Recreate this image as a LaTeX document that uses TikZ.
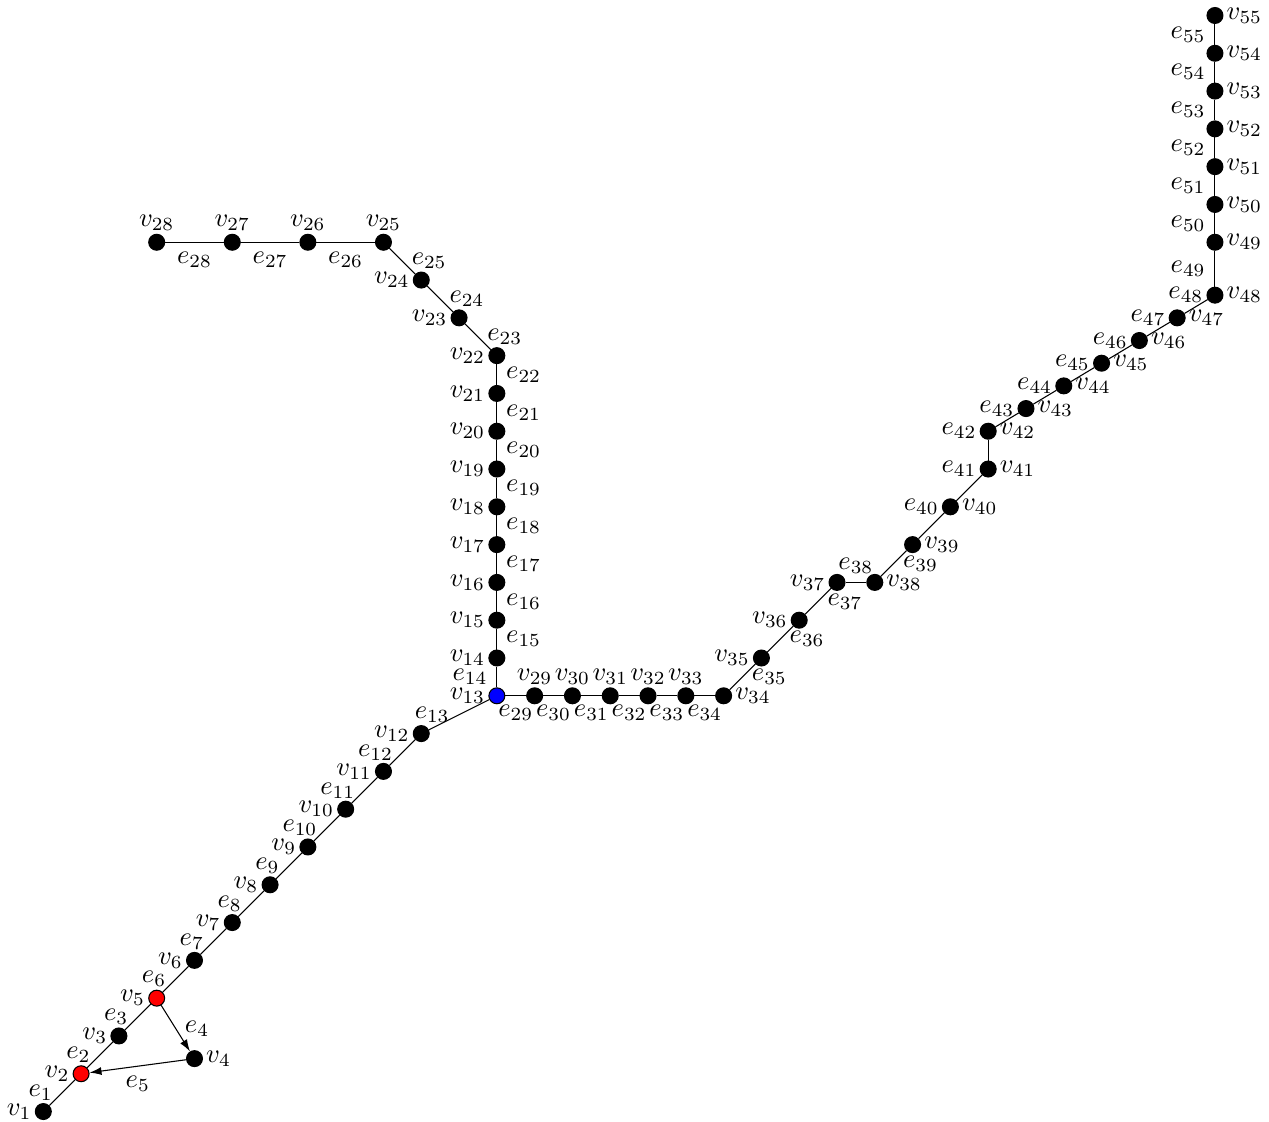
\documentclass[tikz,border=0pt]{standalone}
\usepackage{tikz}
\usetikzlibrary{arrows.meta}
\tikzset{
  vertex/.style={circle,draw,fill=black,inner sep=0pt,minimum size=6pt},
  hit/.style={vertex,fill=red},
  root/.style={vertex,fill=blue},
  line/.style={-{Latex[length=4.5pt,width=3pt]}},
  every label/.style={inner sep=1pt}
}

\begin{document}
\begin{tikzpicture}[x=0.5cm,y=0.5cm]
\useasboundingbox (-1.146,-0.272) rectangle (32.43,29.41);
% tail with the triangle
\node[vertex,label=left:$v_{1}$] (v1) at (0,0) {};
\node[hit,label=left:$v_{2}$] (v2) at (1,1) {};
\node[vertex,label=left:$v_{3}$] (v3) at (2,2) {};
\node[vertex,label=right:$v_{4}$] (v4) at (4,1.4) {};
\node[hit,label=left:$v_{5}$] (v5) at (3,3) {};
\node[vertex,label=left:$v_{6}$] (v6) at (4,4) {};
\node[vertex,label=left:$v_{7}$] (v7) at (5,5) {};
\node[vertex,label=left:$v_{8}$] (v8) at (6,6) {};
\node[vertex,label=left:$v_{9}$] (v9) at (7,7) {};
\node[vertex,label=left:$v_{10}$] (v10) at (8,8) {};
\node[vertex,label=left:$v_{11}$] (v11) at (9,9) {};
\node[vertex,label=left:$v_{12}$] (v12) at (10,10) {};
\node[root,label=left:$v_{13}$] (v13) at (12,11) {};
% upper branch
\node[vertex,label=left:$v_{14}$] (v14) at (12,12) {};
\node[vertex,label=left:$v_{15}$] (v15) at (12,13) {};
\node[vertex,label=left:$v_{16}$] (v16) at (12,14) {};
\node[vertex,label=left:$v_{17}$] (v17) at (12,15) {};
\node[vertex,label=left:$v_{18}$] (v18) at (12,16) {};
\node[vertex,label=left:$v_{19}$] (v19) at (12,17) {};
\node[vertex,label=left:$v_{20}$] (v20) at (12,18) {};
\node[vertex,label=left:$v_{21}$] (v21) at (12,19) {};
\node[vertex,label=left:$v_{22}$] (v22) at (12,20) {};
\node[vertex,label=left:$v_{23}$] (v23) at (11,21) {};
\node[vertex,label=left:$v_{24}$] (v24) at (10,22) {};
\node[vertex,label=above:$v_{25}$] (v25) at (9,23) {};
\node[vertex,label=above:$v_{26}$] (v26) at (7,23) {};
\node[vertex,label=above:$v_{27}$] (v27) at (5,23) {};
\node[vertex,label=above:$v_{28}$] (v28) at (3,23) {};
% right branch
\node[vertex,label=above:$v_{29}$] (v29) at (13,11) {};
\node[vertex,label=above:$v_{30}$] (v30) at (14,11) {};
\node[vertex,label=above:$v_{31}$] (v31) at (15,11) {};
\node[vertex,label=above:$v_{32}$] (v32) at (16,11) {};
\node[vertex,label=above:$v_{33}$] (v33) at (17,11) {};
\node[vertex,label=right:$v_{34}$] (v34) at (18,11) {};
\node[vertex,label=left:$v_{35}$] (v35) at (19,12) {};
\node[vertex,label=left:$v_{36}$] (v36) at (20,13) {};
\node[vertex,label=left:$v_{37}$] (v37) at (21,14) {};
\node[vertex,label=right:$v_{38}$] (v38) at (22,14) {};
\node[vertex,label=right:$v_{39}$] (v39) at (23,15) {};
\node[vertex,label=right:$v_{40}$] (v40) at (24,16) {};
\node[vertex,label=right:$v_{41}$] (v41) at (25,17) {};
\node[vertex,label=right:$v_{42}$] (v42) at (25,18) {};
\node[vertex,label=right:$v_{43}$] (v43) at (26,18.6) {};
\node[vertex,label=right:$v_{44}$] (v44) at (27,19.2) {};
\node[vertex,label=right:$v_{45}$] (v45) at (28,19.8) {};
\node[vertex,label=right:$v_{46}$] (v46) at (29,20.4) {};
\node[vertex,label=right:$v_{47}$] (v47) at (30,21) {};
\node[vertex,label=right:$v_{48}$] (v48) at (31,21.6) {};
\node[vertex,label=right:$v_{49}$] (v49) at (31,23) {};
\node[vertex,label=right:$v_{50}$] (v50) at (31,24) {};
\node[vertex,label=right:$v_{51}$] (v51) at (31,25) {};
\node[vertex,label=right:$v_{52}$] (v52) at (31,26) {};
\node[vertex,label=right:$v_{53}$] (v53) at (31,27) {};
\node[vertex,label=right:$v_{54}$] (v54) at (31,28) {};
\node[vertex,label=right:$v_{55}$] (v55) at (31,29) {};

\draw (v1) -- node[left] {$e_{1}$} (v2);
\draw (v2) -- node[left] {$e_{2}$} (v3);
\draw (v3) -- node[left] {$e_{3}$} (v5);
\draw[line] (v5) -- node[right] {$e_{4}$} (v4);
\draw[line] (v4) -- node[below] {$e_{5}$} (v2);
\draw (v5) -- node[left] {$e_{6}$} (v6);
\draw (v6) -- node[left] {$e_{7}$} (v7);
\draw (v7) -- node[left] {$e_{8}$} (v8);
\draw (v8) -- node[left] {$e_{9}$} (v9);
\draw (v9) -- node[left] {$e_{10}$} (v10);
\draw (v10) -- node[left] {$e_{11}$} (v11);
\draw (v11) -- node[left] {$e_{12}$} (v12);
\draw (v12) -- node[left] {$e_{13}$} (v13);
\draw (v13) -- node[left] {$e_{14}$} (v14);
\draw (v14) -- node[right] {$e_{15}$} (v15);
\draw (v15) -- node[right] {$e_{16}$} (v16);
\draw (v16) -- node[right] {$e_{17}$} (v17);
\draw (v17) -- node[right] {$e_{18}$} (v18);
\draw (v18) -- node[right] {$e_{19}$} (v19);
\draw (v19) -- node[right] {$e_{20}$} (v20);
\draw (v20) -- node[right] {$e_{21}$} (v21);
\draw (v21) -- node[right] {$e_{22}$} (v22);
\draw (v22) -- node[right] {$e_{23}$} (v23);
\draw (v23) -- node[right] {$e_{24}$} (v24);
\draw (v24) -- node[right] {$e_{25}$} (v25);
\draw (v25) -- node[below] {$e_{26}$} (v26);
\draw (v26) -- node[below] {$e_{27}$} (v27);
\draw (v27) -- node[below] {$e_{28}$} (v28);
\draw (v13) -- node[below] {$e_{29}$} (v29);
\draw (v29) -- node[below] {$e_{30}$} (v30);
\draw (v30) -- node[below] {$e_{31}$} (v31);
\draw (v31) -- node[below] {$e_{32}$} (v32);
\draw (v32) -- node[below] {$e_{33}$} (v33);
\draw (v33) -- node[below] {$e_{34}$} (v34);
\draw (v34) -- node[right] {$e_{35}$} (v35);
\draw (v35) -- node[right] {$e_{36}$} (v36);
\draw (v36) -- node[right] {$e_{37}$} (v37);
\draw (v37) -- node[above] {$e_{38}$} (v38);
\draw (v38) -- node[right] {$e_{39}$} (v39);
\draw (v39) -- (v40) node[left,inner sep=1pt] at (v40.west) {$e_{40}$};
\draw (v40) -- (v41) node[left,inner sep=1pt] at (v41.west) {$e_{41}$};
\draw (v41) -- (v42) node[left,inner sep=1pt] at (v42.west) {$e_{42}$};
\draw (v42) -- (v43) node[left,inner sep=1pt] at (v43.west) {$e_{43}$};
\draw (v43) -- (v44) node[left,inner sep=1pt] at (v44.west) {$e_{44}$};
\draw (v44) -- (v45) node[left,inner sep=1pt] at (v45.west) {$e_{45}$};
\draw (v45) -- (v46) node[left,inner sep=1pt] at (v46.west) {$e_{46}$};
\draw (v46) -- (v47) node[left,inner sep=1pt] at (v47.west) {$e_{47}$};
\draw (v47) -- (v48) node[left,inner sep=1pt] at (v48.west) {$e_{48}$};
\draw (v48) -- node[left] {$e_{49}$} (v49);
\draw (v49) -- node[left] {$e_{50}$} (v50);
\draw (v50) -- node[left] {$e_{51}$} (v51);
\draw (v51) -- node[left] {$e_{52}$} (v52);
\draw (v52) -- node[left] {$e_{53}$} (v53);
\draw (v53) -- node[left] {$e_{54}$} (v54);
\draw (v54) -- node[left] {$e_{55}$} (v55);
\end{tikzpicture}
\end{document}
